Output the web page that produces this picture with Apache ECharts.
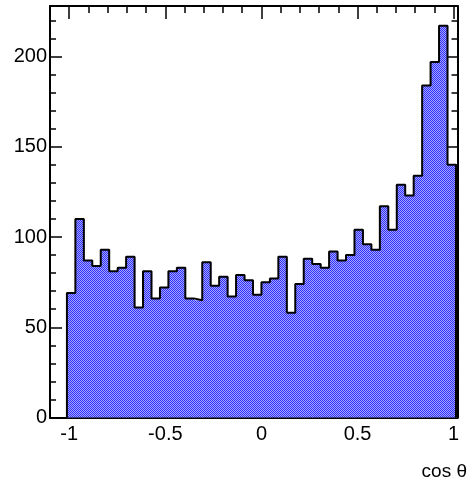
<!DOCTYPE html>
<html>
<head>
<meta charset="utf-8">
<script src="https://cdn.jsdelivr.net/npm/echarts@6/dist/echarts.min.js"></script>
<style>html,body{margin:0;padding:0;background:#fff;}#c{width:474px;height:487px;}</style>
</head>
<body>
<div id="c"></div>
<script>
// Histogram data (46 bins)
const binStart = -1.012;
const binWidth = 0.044;
const counts = [69,110,87,84,93,81,83,89,61,81,66,72,81,83,66,65,86,73,78,67,79,76,68,75,77,89,58,74,88,85,83,92,87,90,104,96,93,117,104,129,123,134,184,197,217,140];
const xMajorTicks = [-1,-0.5,0,0.5,1];
const xMinorTicks = [-1,-0.9,-0.8,-0.7,-0.6,-0.5,-0.4,-0.3,-0.2,-0.1,0,0.1,0.2,0.3,0.4,0.5,0.6,0.7,0.8,0.9,1];
const yMajorTicks = [0,50,100,150,200];
const yMinorTicks = [0,10,20,30,40,50,60,70,80,90,100,110,120,130,140,150,160,170,180,190,200,210,220];
const xTitle = 'cos θ';

const edges = counts.map((c,i)=>[binStart+i*binWidth, binStart+(i+1)*binWidth, c]);
const outline = [[edges[0][0],0]];
edges.forEach(e=>{ outline.push([e[0],e[2]]); outline.push([e[1],e[2]]); });
outline.push([edges[edges.length-1][1],0]);

const pc = document.createElement('canvas');
pc.width = 2; pc.height = 2;
const pctx = pc.getContext('2d');
pctx.fillStyle = '#a8a8ff'; pctx.fillRect(0,0,2,2);
pctx.fillStyle = '#2e2eff'; pctx.fillRect(0,0,1,1); pctx.fillRect(1,1,1,1);
const pattern = {image: pc, repeat: 'repeat'};

const XMIN = -1.1, XMAX = 1.02, YMIN = 0, YMAX = 228;
const FONT = 'Liberation Sans, Arial, Helvetica, sans-serif';

function xAx(pos, ticks, len, line, labels){
  return {type:'value', position:pos, min:XMIN, max:XMAX,
    axisLine:{show:line, onZero:false, lineStyle:{color:'#000', width:2}},
    axisTick:{show:true, inside:true, length:len, customValues:ticks, lineStyle:{color:'#000', width:1.5}},
    axisLabel:{show:labels, customValues:xMajorTicks, color:'#000', fontSize:20, fontFamily:FONT, margin:7},
    splitLine:{show:false}};
}
function yAx(pos, ticks, len, line, labels){
  return {type:'value', position:pos, min:YMIN, max:YMAX,
    axisLine:{show:line, onZero:false, lineStyle:{color:'#000', width:2}},
    axisTick:{show:true, inside:true, length:len, customValues:ticks, lineStyle:{color:'#000', width:1.5}},
    axisLabel:{show:labels, customValues:yMajorTicks, color:'#000', fontSize:20, fontFamily:FONT, margin:3},
    splitLine:{show:false}};
}

const chart = echarts.init(document.getElementById('c'), null, {renderer:'canvas'});
chart.setOption({
  animation:false,
  backgroundColor:'#fff',
  grid:{left:50, right:16.5, top:6, bottom:69.5, containLabel:false},
  title:{text:xTitle, right:2, top:457, textStyle:{fontSize:19, fontWeight:'normal', color:'#000', fontFamily:FONT}},
  xAxis:[
    xAx('bottom', xMajorTicks, 13, true, true),
    xAx('bottom', xMinorTicks, 7, false, false),
    xAx('top', xMajorTicks, 13, true, false),
    xAx('top', xMinorTicks, 7, false, false)
  ],
  yAxis:[
    yAx('left', yMajorTicks, 12, true, true),
    yAx('left', yMinorTicks, 6, false, false),
    yAx('right', yMajorTicks, 12, true, false),
    yAx('right', yMinorTicks, 6, false, false)
  ],
  series:[
    {type:'custom', xAxisIndex:0, yAxisIndex:0, data:edges, z:1,
     renderItem:function(params, api){
       const p0 = api.coord([api.value(0), 0]);
       const p1 = api.coord([api.value(1), api.value(2)]);
       return {type:'rect', shape:{x:p0[0], y:p1[1], width:p1[0]-p0[0]+0.6, height:p0[1]-p1[1]},
         style:{fill:pattern, stroke:null}};
     }},
    {type:'line', xAxisIndex:0, yAxisIndex:0, data:outline, symbol:'none', z:2,
     lineStyle:{color:'#000', width:2}}
  ]
});
</script>
</body>
</html>
